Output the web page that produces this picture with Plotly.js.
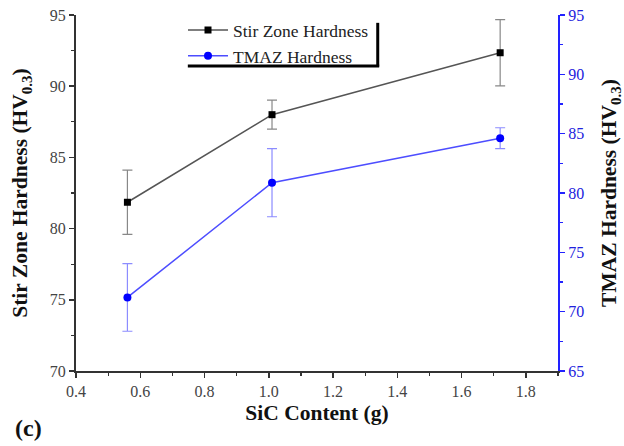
<!DOCTYPE html>
<html><head><meta charset="utf-8">
<script src="https://cdn.plot.ly/plotly-3.0.1.min.js"></script>
<style>body{margin:0;background:#fff}#c{width:624px;height:446px}</style>
</head><body><div id="c"></div>
<script>
const sicContent = [0.56, 1.01, 1.72];
const stirZone = [81.85, 88.0, 92.35];
const stirZoneErr = [2.25, 1.02, 2.33];
const tmaz = [71.2, 80.87, 84.62];
const tmazErr = [2.85, 2.87, 0.88];
const seriesNames = ["Stir Zone Hardness", "TMAZ Hardness"];

const serif = "'Liberation Serif', 'Times New Roman', serif";
const traces = [
  {x: sicContent, y: stirZone, name: seriesNames[0], type: "scatter", mode: "lines+markers",
   line: {color: "#555555", width: 1.5}, marker: {symbol: "square", size: 7, color: "#000000"},
   error_y: {type: "data", array: stirZoneErr, visible: true, color: "#888888", thickness: 1.2, width: 5}},
  {x: sicContent, y: tmaz, name: seriesNames[1], type: "scatter", mode: "lines+markers", yaxis: "y2",
   line: {color: "#4d4dff", width: 1.5}, marker: {symbol: "circle", size: 8, color: "#0000ff"},
   error_y: {type: "data", array: tmazErr, visible: true, color: "#8c8cff", thickness: 1.2, width: 5}}
];
const layout = {
  width: 624, height: 446,
  margin: {l: 76, r: 66, t: 15, b: 75},
  paper_bgcolor: "#fff", plot_bgcolor: "#fff",
  showlegend: true,
  legend: {x: 0.222, y: 1.008, xanchor: "left", yanchor: "top", bgcolor: "rgba(0,0,0,0)",
    font: {family: serif, size: 17.5, color: "#222"}, itemwidth: 40, tracegroupgap: 0},
  xaxis: {range: [0.4, 1.9], dtick: 0.2, tick0: 0.4, tickformat: ".1f", showgrid: false, zeroline: false,
    showline: true, linecolor: "#333", linewidth: 2, ticks: "outside", ticklen: 5, tickwidth: 1.5, tickcolor: "#333",
    minor: {dtick: 0.1, ticks: "outside", ticklen: 3, tickwidth: 1.2, tickcolor: "#333"},
    tickfont: {family: serif, size: 16, color: "#444"},
    title: {text: "<b>SiC Content (g)</b>", font: {family: serif, size: 21.5, color: "#111"}, standoff: 6}},
  yaxis: {range: [70, 95], dtick: 5, showgrid: false, zeroline: false,
    showline: true, linecolor: "#333", linewidth: 2, ticks: "outside", ticklen: 5, tickwidth: 1.5, tickcolor: "#333",
    minor: {dtick: 2.5, ticks: "outside", ticklen: 3, tickwidth: 1.2, tickcolor: "#333"},
    tickfont: {family: serif, size: 16, color: "#444"},
    title: {text: "<b>Stir Zone Hardness (HV<sub>0.3</sub>)</b>", font: {family: serif, size: 21.5, color: "#111"}, standoff: 16}},
  yaxis2: {overlaying: "y", side: "right", range: [65, 95], dtick: 5, showgrid: false, zeroline: false,
    showline: true, linecolor: "#2222ff", linewidth: 2, ticks: "outside", ticklen: 5, tickwidth: 1.5, tickcolor: "#2222ff",
    minor: {dtick: 2.5, ticks: "outside", ticklen: 3, tickwidth: 1.2, tickcolor: "#2222ff"},
    tickfont: {family: serif, size: 16, color: "#2222dd"},
    title: {text: "<b>TMAZ Hardness (HV<sub>0.3</sub>)</b>", font: {family: serif, size: 21.5, color: "#111"}, standoff: 24}},
  shapes: [
    {type: "line", xref: "paper", yref: "paper", x0: 0.626, x1: 0.626, y0: 0.978, y1: 0.855, line: {color: "#000", width: 3}},
    {type: "line", xref: "paper", yref: "paper", x0: 0.232, x1: 0.629, y0: 0.857, y1: 0.857, line: {color: "#000", width: 3}}
  ],
  annotations: [
    {text: "<b>(c)</b>", xref: "paper", yref: "paper", x: -0.13, y: -0.16, xanchor: "left", yanchor: "middle",
     showarrow: false, font: {family: serif, size: 24, color: "#111"}}
  ]
};
Plotly.newPlot("c", traces, layout, {staticPlot: true, displayModeBar: false});
</script></body></html>
